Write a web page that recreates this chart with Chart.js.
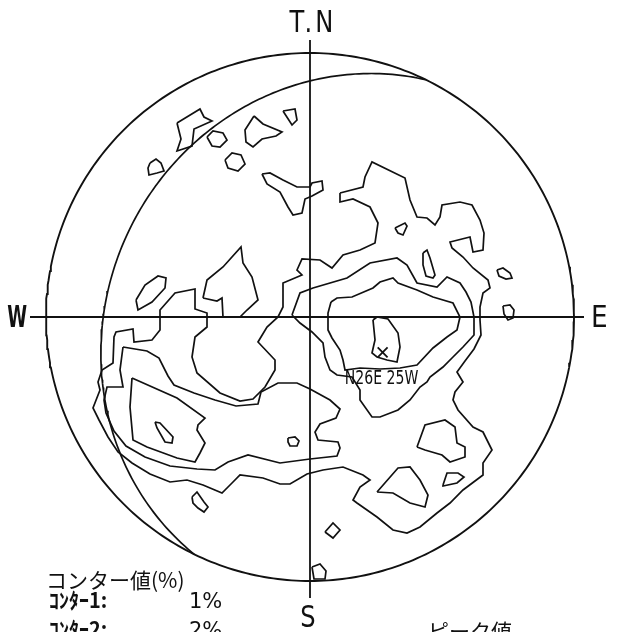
<!DOCTYPE html>
<html>
<head>
<meta charset="utf-8">
<script src="https://cdn.jsdelivr.net/npm/chart.js@4.4.1/dist/chart.umd.min.js"></script>
<style>
  html, body { margin: 0; padding: 0; background: #fff; }
  canvas { display: block; }
</style>
</head>
<body>
<canvas id="net" width="628" height="632"></canvas>
<script>
// Schmidt net, lower hemisphere. Contour vertices are in net units (net radius = 264),
// x to the east, y to the north, origin at the centre of the net.
const NET_R = 264;

// plane of the density peak
const PLANE_STRIKE = 26;
const PLANE_DIP = 25;
const PLANE_LABEL = "N26E 25W";

const DIRECTIONS = ["T.N", "E", "S", "W"];

const LEGEND_TITLE = "コンター値(%)";
const CONTOUR_NAMES = ["ｺﾝﾀｰ1:", "ｺﾝﾀｰ2:"];
const CONTOUR_VALUES = ["1%", "2%"];
const PEAK_TITLE = "ピーク値";

// ---- 1% contour : main loop + islands
const contour1Main = [
  [30,124],[53,130],[55,140],[62,155],[95,139],[100,117],[107,100],[117,99],[125,92],[130,100],
  [132,112],[150,115],[162,112],[170,97],[174,84],[173,67],[163,65],[160,80],[140,75],[142,69],
  [153,60],[163,49],[178,37],[180,29],[173,24],[170,10],[170,-3],[171,-18],[164,-32],[155,-44],
  [147,-55],[153,-65],[145,-75],[143,-83],[148,-93],[163,-110],[173,-115],[182,-133],[173,-146],
  [173,-158],[153,-173],[140,-186],[127,-196],[110,-210],[97,-216],[83,-213],[67,-200],[47,-186],
  [43,-183],[50,-170],[60,-163],[53,-158],[33,-150],[13,-153],[-3,-157],[-20,-167],[-30,-167],
  [-47,-161],[-70,-158],[-78,-166],[-88,-176],[-107,-168],[-123,-163],[-140,-165],[-160,-157],
  [-178,-146],[-192,-135],[-202,-120],[-211,-103],[-217,-91],[-210,-73],[-212,-65],[-208,-53],
  [-197,-46],[-196,-20],[-194,-15],[-177,-12],[-176,-25],[-158,-23],[-150,-13],[-150,7],[-135,24],
  [-115,28],[-115,8],[-103,4],[-103,-10],[-115,-20],[-118,-40],[-113,-56],[-90,-76],[-70,-84],
  [-57,-82],[-45,-70],[-35,-53],[-35,-43],[-52,-25],[-43,-10],[-32,0],[-27,10],[-27,34],[-8,42],
  [-13,47],[-8,58],[10,57],[22,49],[33,62],[50,67],[65,74],[68,94],[60,110],[43,118],[30,115]
];
const contour1Islands = [
  [[-133,194],[-110,208],[-106,200],[-98,196],[-116,188],[-118,171],[-133,166],[-129,178],[-132,190]],
  [[-160,154],[-154,158],[-149,154],[-146,146],[-153,144],[-161,142],[-162,149]],
  [[-103,180],[-97,186],[-87,184],[-83,177],[-90,170],[-98,171]],
  [[-85,157],[-78,164],[-69,162],[-65,153],[-72,146],[-82,149]],
  [[-56,201],[-47,193],[-28,185],[-34,181],[-48,178],[-57,170],[-64,175],[-65,187]],
  [[-27,206],[-15,208],[-13,197],[-18,192]],
  [[-48,143],[-40,144],[-27,137],[-13,130],[0,130],[2,134],[12,136],[13,127],[2,121],[-5,118],
   [-8,104],[-17,102],[-22,110],[-30,125],[-43,133]],
  [[-174,17],[-165,32],[-152,41],[-144,39],[-145,29],[-158,15],[-172,7]],
  [[-107,19],[-103,37],[-87,50],[-69,70],[-67,54],[-58,40],[-52,17],[-63,7],[-70,0],[-87,0],
   [-88,19],[-93,16]],
  [[85,89],[95,94],[97,91],[93,82],[88,84]],
  [[113,64],[117,67],[120,59],[125,42],[123,39],[116,41],[113,52]],
  [[187,47],[193,49],[200,44],[202,39],[196,38],[189,41]],
  [[193,11],[200,12],[204,7],[203,-1],[198,-3],[194,3]],
  [[15,-215],[23,-206],[30,-213],[23,-221]],
  [[-118,-180],[-113,-175],[-106,-185],[-102,-190],[-106,-195],[-112,-191],[-117,-186]],
  [[2,-250],[10,-247],[16,-254],[15,-262],[4,-262]]
];

// ---- 2% contour
const contour2West = [
  [-187,-30],[-163,-34],[-151,-41],[-142,-59],[-136,-68],[-116,-76],[-95,-83],[-74,-89],[-52,-87],
  [-49,-75],[-32,-66],[-13,-66],[0,-72],[20,-83],[30,-92],[26,-101],[10,-107],[5,-115],[8,-123],
  [28,-125],[30,-131],[27,-139],[0,-142],[-30,-146],[-62,-138],[-82,-145],[-95,-153],[-113,-152],
  [-140,-149],[-165,-140],[-184,-129],[-196,-114],[-204,-96],[-206,-83],[-203,-70],[-187,-70],
  [-190,-53]
];
const contour2Peak = [
  [-18,2],[-10,24],[3,29],[37,39],[60,54],[87,59],[97,52],[107,34],[127,30],[137,40],[150,34],
  [156,25],[161,15],[164,0],[164,-18],[153,-30],[142,-41],[133,-50],[120,-60],[117,-65],[110,-70],
  [100,-83],[88,-93],[70,-100],[62,-100],[50,-83],[50,-73],[42,-60],[27,-58],[20,-53],[15,-40],
  [13,-26],[2,-15],[-10,-6]
];
const contour2Islands = [
  [[-22,-121],[-15,-120],[-11,-124],[-13,-129],[-20,-129],[-22,-125]],
  [[107,-130],[115,-108],[135,-103],[145,-110],[147,-126],[155,-130],[155,-140],[140,-145],
   [132,-138],[115,-133]],
  [[67,-175],[88,-151],[100,-150],[110,-163],[118,-178],[115,-190],[100,-186],[83,-176]],
  [[133,-168],[137,-156],[148,-156],[154,-160],[147,-166],[133,-169]]
];

// ---- 3% and 4% contours
const contour3West = [
  [-178,-61],[-133,-81],[-105,-101],[-112,-108],[-113,-113],[-105,-126],[-110,-136],[-115,-145],
  [-133,-141],[-163,-130],[-177,-123],[-180,-90]
];
const contour3Peak = [
  [21,15],[27,19],[42,20],[63,29],[70,35],[83,39],[88,34],[107,27],[123,20],[143,14],[150,0],
  [147,-13],[137,-20],[123,-31],[107,-48],[90,-51],[70,-52],[50,-51],[35,-53],[33,-43],[30,-33],
  [22,-21],[18,-13],[18,4]
];
const contour4West = [[-155,-105],[-150,-106],[-137,-120],[-138,-126],[-145,-125],[-153,-111]];
const peakContour = [
  [63,-3],[67,0],[78,-2],[88,-16],[90,-30],[87,-45],[77,-43],[67,-40],[62,-36],[65,-23]
];

/* ===============================
   PROJECTION
================================ */

const D2R = Math.PI / 180;

function project(trend, plunge) {
  const r = NET_R * Math.SQRT2 * Math.sin((90 - plunge) * D2R / 2);
  return { x: r * Math.sin(trend * D2R), y: r * Math.cos(trend * D2R) };
}

function greatCircle(strike, dip) {
  const dipDir = strike + 270; // dips to the west
  const s = [Math.sin(strike * D2R), Math.cos(strike * D2R), 0];
  const d = [
    Math.sin(dipDir * D2R) * Math.cos(dip * D2R),
    Math.cos(dipDir * D2R) * Math.cos(dip * D2R),
    Math.sin(dip * D2R)
  ];
  const pts = [];
  for (let a = 0; a <= 180; a += 1) {
    const c = Math.cos(a * D2R), n = Math.sin(a * D2R);
    const v = [c * s[0] + n * d[0], c * s[1] + n * d[1], c * s[2] + n * d[2]];
    const trend = Math.atan2(v[0], v[1]) / D2R;
    const plunge = Math.asin(Math.min(1, v[2])) / D2R;
    pts.push(project(trend, plunge));
  }
  return pts;
}

function primitive() {
  const pts = [];
  for (let a = 0; a <= 360; a += 1) {
    pts.push({ x: NET_R * Math.sin(a * D2R), y: NET_R * Math.cos(a * D2R) });
  }
  return pts;
}

/* ===============================
   DATASETS
================================ */

const INK = "#111";

function lineSet(points, width) {
  return {
    data: points,
    showLine: true,
    borderColor: INK,
    borderWidth: width || 1.7,
    pointRadius: 0,
    fill: false,
    tension: 0
  };
}

function loop(arr) {
  const pts = arr.map(([x, y]) => ({ x, y }));
  pts.push({ x: arr[0][0], y: arr[0][1] });
  return lineSet(pts, 1.7);
}

const pole = project(PLANE_STRIKE + 90, 90 - PLANE_DIP);

const datasets = [
  lineSet(primitive(), 1.9),
  lineSet([{ x: -NET_R - 16, y: 0 }, { x: NET_R + 10, y: 0 }], 1.8),
  lineSet([{ x: 0, y: NET_R + 13 }, { x: 0, y: -NET_R - 17 }], 1.8),
  lineSet(greatCircle(PLANE_STRIKE, PLANE_DIP), 1.7),
  loop(contour1Main),
  ...contour1Islands.map(loop),
  loop(contour2West),
  loop(contour2Peak),
  ...contour2Islands.map(loop),
  loop(contour3West),
  loop(contour3Peak),
  loop(contour4West),
  loop(peakContour),
  {
    data: [pole],
    pointStyle: "crossRot",
    pointRadius: 7,
    pointBorderColor: INK,
    pointBorderWidth: 1.8,
    showLine: false
  }
];

/* ===============================
   TEXT
================================ */

function narrowText(ctx, text, x, y, font, squeeze, align, spacing) {
  ctx.save();
  ctx.font = font;
  ctx.letterSpacing = (spacing || 0) + "px";
  const w = ctx.measureText(text).width * squeeze;
  let left = x;
  if (align === "center") left = x - w / 2;
  if (align === "right") left = x - w;
  ctx.translate(left, y);
  ctx.scale(squeeze, 1);
  ctx.textAlign = "left";
  ctx.textBaseline = "alphabetic";
  ctx.fillText(text, 0, 0);
  ctx.restore();
}

const labelPlugin = {
  id: "netLabels",
  afterDatasetsDraw(chart) {
    const { ctx, scales } = chart;
    const px = v => scales.x.getPixelForValue(v);
    const py = v => scales.y.getPixelForValue(v);
    const dirFont = '31px "DejaVu Sans", sans-serif';
    ctx.save();
    ctx.fillStyle = INK;

    narrowText(ctx, DIRECTIONS[0], px(3), py(NET_R + 21), dirFont, 0.78, "center", 4);
    narrowText(ctx, DIRECTIONS[1], px(NET_R + 17), py(-10), dirFont, 0.85, "left");
    narrowText(ctx, DIRECTIONS[2], px(-2), py(-NET_R - 46), dirFont, 0.78, "center");
    narrowText(ctx, DIRECTIONS[3], px(-NET_R - 19), py(-10), 'bold 31px "DejaVu Sans", sans-serif', 0.58, "right");

    narrowText(ctx, PLANE_LABEL, px(pole.x - 1), py(pole.y - 32),
      '19px "DejaVu Sans", sans-serif', 0.74, "center");

    ctx.textAlign = "left";
    ctx.textBaseline = "alphabetic";
    ctx.font = '21px "Noto Sans CJK JP", sans-serif';
    ctx.fillText(LEGEND_TITLE, 46, 588);
    CONTOUR_NAMES.forEach((name, i) => {
      const base = 608 + i * 29;
      narrowText(ctx, name, 49, base, 'bold 21px "Noto Sans CJK JP", sans-serif', 0.95, "left");
      ctx.font = '21px "DejaVu Sans", sans-serif';
      ctx.fillText(CONTOUR_VALUES[i], 189, base);
    });
    ctx.font = '21px "Noto Sans CJK JP", sans-serif';
    ctx.fillText(PEAK_TITLE, 428, 639);
    ctx.restore();
  }
};

new Chart(document.getElementById("net"), {
  type: "scatter",
  data: { datasets },
  options: {
    responsive: false,
    devicePixelRatio: 1,
    animation: false,
    events: [],
    layout: { padding: 0, autoPadding: false },
    scales: {
      x: { type: "linear", min: -310, max: 318, display: false },
      y: { type: "linear", min: -315, max: 317, display: false }
    },
    plugins: {
      legend: { display: false },
      tooltip: { enabled: false }
    }
  },
  plugins: [labelPlugin]
});
</script>
</body>
</html>
